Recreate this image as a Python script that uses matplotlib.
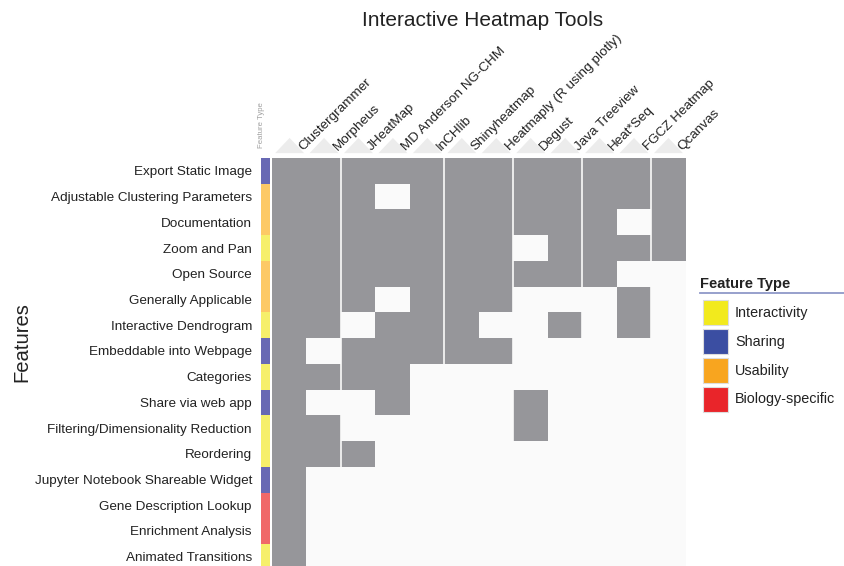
import matplotlib
matplotlib.use("Agg")
import matplotlib.pyplot as plt
import numpy as np
from matplotlib.colors import ListedColormap
from matplotlib.patches import Polygon, Rectangle

plt.rcParams['font.family'] = ['Liberation Sans', 'DejaVu Sans']

tools = ["Clustergrammer", "Morpheus", "JHeatMap", "MD Anderson NG-CHM", "InCHlib",
         "Shinyheatmap", "Heatmaply (R using plotly)", "Degust", "Java Treeview",
         "Heat*Seq", "FGCZ Heatmap", "Qcanvas"]

features = ["Export Static Image", "Adjustable Clustering Parameters", "Documentation",
            "Zoom and Pan", "Open Source", "Generally Applicable", "Interactive Dendrogram",
            "Embeddable into Webpage", "Categories", "Share via web app",
            "Filtering/Dimensionality Reduction", "Reordering",
            "Jupyter Notebook Shareable Widget", "Gene Description Lookup",
            "Enrichment Analysis", "Animated Transitions"]

feature_types = ["Sharing", "Usability", "Usability", "Interactivity", "Usability",
                 "Usability", "Interactivity", "Sharing", "Interactivity", "Sharing",
                 "Interactivity", "Interactivity", "Sharing", "Biology-specific",
                 "Biology-specific", "Interactivity"]

# 1 = tool has the feature (rows follow `features`, columns follow `tools`)
has_feature = [
    [1, 1, 1, 1, 1, 1, 1, 1, 1, 1, 1, 1],
    [1, 1, 1, 0, 1, 1, 1, 1, 1, 1, 1, 1],
    [1, 1, 1, 1, 1, 1, 1, 1, 1, 1, 0, 1],
    [1, 1, 1, 1, 1, 1, 1, 0, 1, 1, 1, 1],
    [1, 1, 1, 1, 1, 1, 1, 1, 1, 1, 0, 0],
    [1, 1, 1, 0, 1, 1, 1, 0, 0, 0, 1, 0],
    [1, 1, 0, 1, 1, 1, 0, 0, 1, 0, 1, 0],
    [1, 0, 1, 1, 1, 1, 1, 0, 0, 0, 0, 0],
    [1, 1, 1, 1, 0, 0, 0, 0, 0, 0, 0, 0],
    [1, 0, 0, 1, 0, 0, 0, 1, 0, 0, 0, 0],
    [1, 1, 0, 0, 0, 0, 0, 1, 0, 0, 0, 0],
    [1, 1, 1, 0, 0, 0, 0, 0, 0, 0, 0, 0],
    [1, 0, 0, 0, 0, 0, 0, 0, 0, 0, 0, 0],
    [1, 0, 0, 0, 0, 0, 0, 0, 0, 0, 0, 0],
    [1, 0, 0, 0, 0, 0, 0, 0, 0, 0, 0, 0],
    [1, 0, 0, 0, 0, 0, 0, 0, 0, 0, 0, 0],
]

type_names = ["Interactivity", "Sharing", "Usability", "Biology-specific"]
type_colors = ["#f2ea1d", "#3b4ea2", "#f8a51f", "#e9252a"]
strip_colors = ["#f6ef6b", "#6869b4", "#fdc966", "#f06869"]
group_edges = [2, 5, 7, 9, 11]

W, H = 845, 566
fig = plt.figure(figsize=(W / 100, H / 100), dpi=100)

bottom = 1 - 569.5 / H
height = 411.5 / H

# main matrix
ax = fig.add_axes([271.7 / W, bottom, 413.3 / W, height])
mat = np.array(has_feature)
ax.imshow(mat, cmap=ListedColormap(["#fafafa", "#96969a"]), vmin=0, vmax=1,
          aspect="auto", extent=(0, len(tools), len(features), 0), interpolation="nearest")
for b in group_edges:
    ax.axvline(b, color="#fafafa", lw=1.2)
ax.set_xlim(0, len(tools))
ax.set_ylim(len(features), 0)
ax.set_xticks([])
ax.set_yticks([])
for s in ax.spines.values():
    s.set_visible(False)

for i, tool in enumerate(tools):
    ax.add_patch(Polygon([(i + 0.1, -0.19), (i + 0.52, -0.78), (i + 0.94, -0.19)],
                         closed=True, facecolor="#ececec", edgecolor="none", clip_on=False))
    ax.text(i + 0.97, -0.2, tool, rotation=45, rotation_mode="anchor", ha="left",
            va="bottom", fontsize=9.7, color="#222222", clip_on=False)

# feature type strip
sax = fig.add_axes([261 / W, bottom, 9 / W, height])
type_idx = np.array([type_names.index(t) for t in feature_types])[:, None]
sax.imshow(type_idx, cmap=ListedColormap(strip_colors), vmin=-0.5, vmax=3.5,
           aspect="auto", extent=(0, 1, len(features), 0), interpolation="nearest")
sax.set_xlim(0, 1)
sax.set_ylim(len(features), 0)
sax.set_xticks([])
sax.set_yticks(np.arange(len(features)) + 0.5, features, fontsize=9.7, color="#222222")
sax.tick_params(length=0, pad=6.5)
for s in sax.spines.values():
    s.set_visible(False)
sax.text(0.05, -0.38, "Feature Type", rotation=90, ha="center", va="bottom",
         fontsize=5.6, color="#a0a0a0", clip_on=False)

fig.text(482.5 / W, 1 - 21 / H, "Interactive Heatmap Tools", ha="center", va="center",
         fontsize=15, color="#222222")
fig.text(22 / W, 1 - 342 / H, "Features", rotation=90, ha="center", va="center",
         fontsize=14.6, color="#222222")

# legend, laid out in its own pixel-scaled axes
lax = fig.add_axes([695 / W, 1 - 420 / H, 150 / W, 150 / H])
lax.set_xlim(0, 150)
lax.set_ylim(150, 0)
lax.axis("off")
lax.text(5, 14, "Feature Type", fontsize=10.5, fontweight="bold", color="#222222",
         ha="left", va="center")
lax.plot([5, 150], [23, 23], color="#8f98c8", lw=1.3, clip_on=False)
for k, (name, color) in enumerate(zip(type_names, type_colors)):
    y0 = 30 + 29 * k
    lax.add_patch(Rectangle((8, y0), 25, 25, facecolor=color, edgecolor="#dddddd", lw=0.8))
    lax.text(40, y0 + 12.5, name, fontsize=10.4, color="#222222", ha="left", va="center")

fig.savefig("out.png", dpi=100)
